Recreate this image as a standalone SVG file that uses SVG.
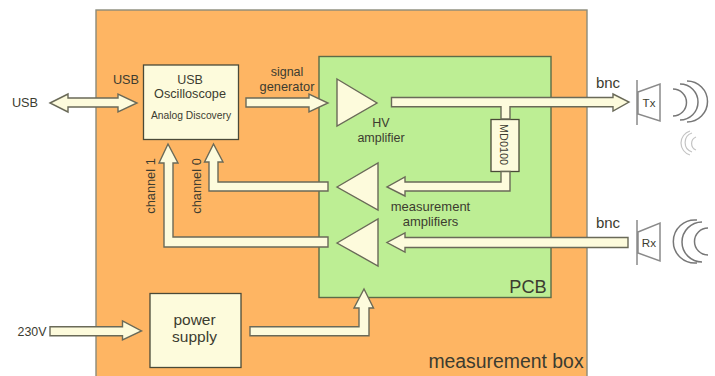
<svg xmlns="http://www.w3.org/2000/svg" width="715" height="376" viewBox="0 0 715 376">
<style>
text{font-family:"Liberation Sans",Arial,sans-serif;fill:#3c3c30;text-anchor:middle}
.a{fill:#fdfbdc;stroke:#6a6a58;stroke-width:1.4;stroke-linejoin:miter}
.b{fill:#fdfbdc;stroke:#4a4a38;stroke-width:1.3}
.s{fill:none;stroke:#8a8a8a;stroke-width:1.5}
.w{fill:none;stroke:#777;stroke-width:1.5}
.l{fill:none;stroke:#c4c4c4;stroke-width:1.2}
</style>
<rect width="715" height="376" fill="#fff"/>
<g id="measurement-box"><rect x="96" y="10" width="491" height="380" fill="#feb563" stroke="#8b8b7b" stroke-width="1.4"/><text x="506" y="368" font-size="19.400" fill="#33281a">measurement box</text></g>
<g id="pcb"><rect x="319" y="56.500" width="232" height="241" fill="#bdee94" stroke="#5c6b48" stroke-width="1.4"/><text x="528" y="293" font-size="18.200">PCB</text></g>
<g id="usb-oscilloscope"><rect class="b" x="143.500" y="65" width="95" height="74.500"/><text x="190" y="83.500" font-size="12.500">USB</text><text x="190" y="97.500" font-size="12.700">Oscilloscope</text><text x="191" y="119" font-size="10.300">Analog Discovery</text></g>
<g id="power-supply"><rect class="b" x="150" y="293.500" width="91" height="74"/><text x="194.500" y="325" font-size="15.500">power</text><text x="194.500" y="342" font-size="15.500">supply</text></g>
<g id="hv-amplifier"><polygon class="a" points="337,79 377,103 337,126"/><text x="381" y="127" font-size="12.500">HV</text><text x="381" y="142" font-size="12.500">amplifier</text></g>
<g id="amp-0"><polygon class="a" points="337,187 378,163 378,210"/></g>
<g id="amp-1"><polygon class="a" points="337,243 378,219 378,266"/></g>
<g id="md0100"><rect class="b" x="491" y="119.500" width="28" height="52"/><text transform="translate(500,144.500) rotate(90)" font-size="10.800">MD0100</text></g>
<g id="tx"><path class="s" d="M637 80V125M638 92L660 84V121L638 114Z"/><text x="649" y="107" font-size="11.500">Tx</text><path class="w" d="M673 89A13 13 0 0 1 673 116M680 84A18 18 0 0 1 680 120M687 81A20.500 20.500 0 1 1 687 122"/><path class="l" d="M690 131A12.500 12.500 0 0 0 690 155M692 133A10 10 0 0 0 692 152M696 137A7 7 0 0 0 696 150"/></g>
<g id="rx"><path class="s" d="M637 220V265M638 232L660 223V261L638 253Z"/><text x="649" y="246.500" font-size="11.700">Rx</text><path class="w" d="M697 220A21.600 21.600 0 1 0 697 263M702 222A20 20 0 0 0 702 262M708 228A13.500 13.500 0 0 0 708 255"/></g>
<g id="connectors">
<path class="a" d="M50 103L68 94V98H118V94L137 103L118 112V107H68V112Z"/>
<path class="a" d="M246 98H309V94L328 103L309 112V107H246Z"/>
<path class="a" d="M391.500 97.500H613V94L629 102L613 111V106.700H510V119H501V106.700H391.500Z"/>
<path class="a" d="M501 171.500V182H405V177L387 187L405 196V191H510V171.500Z"/>
<path class="a" d="M628 237.500H405V233L387 242.500L405 252V247.500H628Z"/>
<path class="a" d="M328 182H218V162H223L213.500 144L204.500 162H209V191H328Z"/>
<path class="a" d="M328 237H173V163H178L168 144L159 163H164V247H328Z"/>
<path class="a" d="M50 326.700H122.500V321L141.500 331L122.500 340V335.700H50Z"/>
<path class="a" d="M250 326.700H359V308H354L364 289L373.500 308H369V335.700H250Z"/>
</g>
<g id="labels">
<text x="25" y="107" font-size="12.700">USB</text>
<text x="126" y="84" font-size="12.700" fill="#3c2c10">USB</text>
<text x="287" y="76" font-size="12.500" fill="#3c2c10">signal</text>
<text x="287" y="91" font-size="12.800" fill="#3c2c10">generator</text>
<text transform="translate(155,186) rotate(-90)" font-size="12.800" fill="#3c2c10">channel 1</text>
<text transform="translate(201,186) rotate(-90)" font-size="12.800" fill="#3c2c10">channel 0</text>
<text x="430.500" y="211" font-size="13">measurement</text>
<text x="430.500" y="226" font-size="13">amplifiers</text>
<text x="608" y="88" font-size="15">bnc</text>
<text x="608" y="228" font-size="15">bnc</text>
<text x="32" y="335.500" font-size="12.400">230V</text>
</g>
</svg>
